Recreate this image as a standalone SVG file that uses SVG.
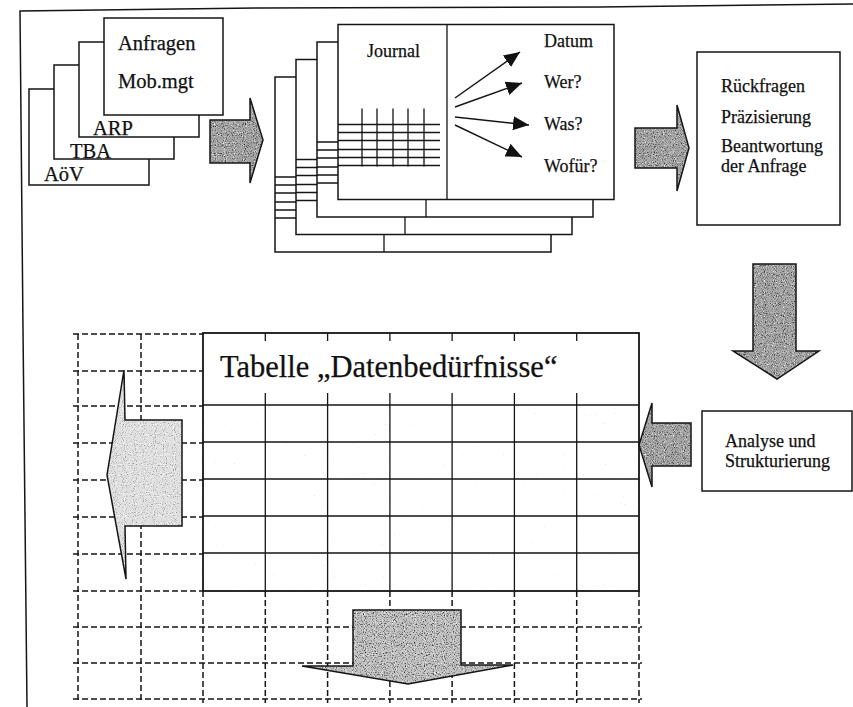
<svg xmlns="http://www.w3.org/2000/svg" xmlns:xlink="http://www.w3.org/1999/xlink" width="853" height="707" viewBox="0 0 853 707">
  <style>
    text { font-family: "Liberation Serif", "Times New Roman", serif; fill: #111; stroke: #111; stroke-width: 0.25; }
    .line { fill: none; stroke: #151515; stroke-width: 1.5; }
    .box { fill: #fff; stroke: #151515; stroke-width: 1.5; }
    .grid { stroke: #151515; stroke-width: 1.3; fill: none; }
    .dash { stroke: #151515; stroke-width: 1.5; stroke-dasharray: 6 3; fill: none; }
    .outline { fill: none; stroke: #151515; stroke-width: 1.5; stroke-linejoin: miter; }
    .dark { fill: #a6a6a6; stroke: none; filter: url(#grainDark); }
    .mid { fill: #c2c2c2; stroke: none; filter: url(#grainDark); }
    .light { fill: #e0e0e0; stroke: none; filter: url(#grainSoft); }
    .t20 { font-size: 20.5px; }
    .t18 { font-size: 18px; }
  </style>
  <defs>
    <!-- stipple for the dark block arrows -->
    <filter id="grainDark" color-interpolation-filters="sRGB">
      <feTurbulence type="fractalNoise" baseFrequency="0.9" numOctaves="1" seed="7" result="noise"/>
      <feColorMatrix in="noise" type="matrix" values="0 0 0 0 0.15  0 0 0 0 0.15  0 0 0 0 0.15  3.4 0 0 0 -1.75" result="black"/>
      <feColorMatrix in="noise" type="matrix" values="0 0 0 0 1  0 0 0 0 1  0 0 0 0 1  0 -3.4 0 0 1.55" result="white"/>
      <feComposite in="black" in2="SourceAlpha" operator="in" result="b"/>
      <feComposite in="white" in2="SourceAlpha" operator="in" result="w"/>
      <feMerge><feMergeNode in="SourceGraphic"/><feMergeNode in="w"/><feMergeNode in="b"/></feMerge>
    </filter>
    <!-- softer stipple for the light arrow -->
    <filter id="grainSoft" color-interpolation-filters="sRGB">
      <feTurbulence type="fractalNoise" baseFrequency="0.9" numOctaves="1" seed="3" result="noise"/>
      <feColorMatrix in="noise" type="matrix" values="0 0 0 0 0.5  0 0 0 0 0.5  0 0 0 0 0.5  3.5 0 0 0 -1.95" result="grey"/>
      <feColorMatrix in="noise" type="matrix" values="0 0 0 0 1  0 0 0 0 1  0 0 0 0 1  0 -4 0 0 1.8" result="white"/>
      <feComposite in="grey" in2="SourceAlpha" operator="in" result="g"/>
      <feComposite in="white" in2="SourceAlpha" operator="in" result="w"/>
      <feMerge><feMergeNode in="SourceGraphic"/><feMergeNode in="w"/><feMergeNode in="g"/></feMerge>
    </filter>
    <!-- sparse specks in the table cells -->
    <filter id="grainCells" color-interpolation-filters="sRGB">
      <feTurbulence type="fractalNoise" baseFrequency="0.9" numOctaves="1" seed="11" result="noise"/>
      <feColorMatrix in="noise" type="matrix" values="0 0 0 0 0.78  0 0 0 0 0.78  0 0 0 0 0.78  5 0 0 0 -3.7" result="grey"/>
      <feComposite in="grey" in2="SourceAlpha" operator="in" result="g"/>
      <feMerge><feMergeNode in="SourceGraphic"/><feMergeNode in="g"/></feMerge>
    </filter>
    <marker id="head" viewBox="0 0 16 14" refX="16" refY="7" markerWidth="16" markerHeight="14" markerUnits="userSpaceOnUse" orient="auto">
      <path d="M0,0 L16,7 L0,14 Z" fill="#111"/>
    </marker>
    <!-- one journal sheet: outline, divider and ruled grid -->
    <g id="sheet">
      <rect class="box" x="0" y="0" width="276" height="175"/>
      <line class="grid" x1="109" y1="0" x2="109" y2="175"/>
      <path class="grid" d="M0,100 H102 M0,108 H102 M0,116 H102 M0,125 H102 M0,133 H102 M0,141 H102"/>
      <path class="grid" d="M24,84 V142 M39,84 V142 M55,84 V142 M70,84 V142 M86,84 V142"/>
    </g>
    <polygon id="arrow-a" points="210,120 250,120 250,98 263,140 250,183 250,163 210,163"/>
    <polygon id="arrow-b" points="635,128 677,128 677,105 689,148 677,191 677,168 635,168"/>
    <polygon id="arrow-c" points="753,264 796,264 796,351 819,351 777,379 733,351 753,351"/>
    <polygon id="arrow-d" points="691,423 652,423 652,403 639,445 652,487 652,466 691,466"/>
    <polygon id="arrow-e" points="182,420 125,420 124,370 107,475 126,579 125,526 182,526"/>
    <polygon id="arrow-f" points="353,610 461,610 461,665 513,665 408,684 302,666 353,666"/>
  </defs>

  <!-- page frame -->
  <polyline class="line" points="27,707 23,330 20,11 260,8 600,7 853,4"/>

  <!-- request sources -->
  <g id="sources">
    <rect class="box" x="29" y="89" width="120" height="96"/>
    <rect class="box" x="54" y="65" width="120" height="94"/>
    <rect class="box" x="79" y="42" width="120" height="95"/>
    <rect class="box" x="104" y="18" width="119" height="97"/>
    <text class="t20" x="118" y="50">Anfragen</text>
    <text class="t20" x="118" y="88">Mob.mgt</text>
    <text class="t20" x="93" y="135">ARP</text>
    <text class="t20" x="70" y="158">TBA</text>
    <text class="t20" x="44" y="181">AöV</text>
  </g>

  <!-- journal sheets -->
  <g id="journal">
    <use xlink:href="#sheet" transform="translate(275,77)"/>
    <use xlink:href="#sheet" transform="translate(296,59.5)"/>
    <use xlink:href="#sheet" transform="translate(317,42)"/>
    <use xlink:href="#sheet" transform="translate(338,24.5)"/>
    <text class="t18" x="367" y="57">Journal</text>
    <text class="t18" x="544" y="47">Datum</text>
    <text class="t18" x="544" y="88">Wer?</text>
    <text class="t18" x="544" y="130">Was?</text>
    <text class="t18" x="544" y="172">Wofür?</text>
    <g class="line" marker-end="url(#head)">
      <line x1="455" y1="98" x2="520" y2="52"/>
      <line x1="455" y1="107" x2="522" y2="83"/>
      <line x1="455" y1="117" x2="529" y2="125"/>
      <line x1="455" y1="125" x2="522" y2="157"/>
    </g>
  </g>

  <!-- follow-up box -->
  <g id="followup">
    <rect class="box" x="697" y="52" width="143" height="173"/>
    <text class="t18" x="721" y="92">Rückfragen</text>
    <text class="t18" x="721" y="123">Präzisierung</text>
    <text class="t18" x="721" y="152">Beantwortung</text>
    <text class="t18" x="721" y="172">der Anfrage</text>
  </g>

  <!-- analysis box -->
  <g id="analysis">
    <rect class="box" x="702" y="411" width="150" height="80"/>
    <text class="t18" x="725" y="447">Analyse und</text>
    <text class="t18" x="725" y="467">Strukturierung</text>
  </g>

  <!-- dashed background grid around the table -->
  <g id="dashed-grid" class="dash">
    <path d="M73,334 H203 M73,371 H203 M73,406 H203 M73,443 H203 M73,480 H203 M73,517 H203 M73,554 H203 M73,591 H203"/>
    <path d="M73,627 H642 M73,663 H642 M73,699 H642"/>
    <path d="M78,334 V703 M141,334 V703"/>
    <path d="M203,591 V703 M265.3,591 V703 M327.6,591 V703 M389.9,591 V703 M452.1,591 V703 M514.4,591 V703 M576.7,591 V703 M639,591 V703"/>
  </g>

  <!-- table "Datenbedürfnisse" -->
  <g id="table">
    <rect x="203" y="333" width="436" height="258" fill="#fff"/>
    <rect x="203" y="405" width="436" height="186" fill="#fff" filter="url(#grainCells)"/>
    <path class="grid" d="M203,405 H639 M203,442 H639 M203,479 H639 M203,516 H639 M203,553 H639"/>
    <path class="grid" d="M265.3,393 V591 M327.6,393 V591 M389.9,393 V591 M452.1,393 V591 M514.4,393 V591 M576.7,393 V591"/>
    <path class="grid" d="M265.3,333 V341 M327.6,333 V341 M389.9,333 V341 M452.1,333 V341 M514.4,333 V341 M576.7,333 V341"/>
    <rect x="203" y="333" width="436" height="258" fill="none" stroke="#151515" stroke-width="1.8"/>
    <text x="220" y="377" font-size="30.5">Tabelle „Datenbedürfnisse“</text>
  </g>

  <!-- block arrows -->
  <g id="connectors">
    <use xlink:href="#arrow-a" class="dark"/>
    <use xlink:href="#arrow-a" class="outline"/>
    <use xlink:href="#arrow-b" class="dark"/>
    <use xlink:href="#arrow-b" class="outline"/>
    <use xlink:href="#arrow-c" class="dark"/>
    <use xlink:href="#arrow-c" class="outline"/>
    <use xlink:href="#arrow-d" class="dark"/>
    <use xlink:href="#arrow-d" class="outline"/>
    <use xlink:href="#arrow-e" class="light"/>
    <use xlink:href="#arrow-e" class="outline"/>
    <use xlink:href="#arrow-f" class="mid"/>
    <use xlink:href="#arrow-f" class="outline"/>
  </g>
</svg>
